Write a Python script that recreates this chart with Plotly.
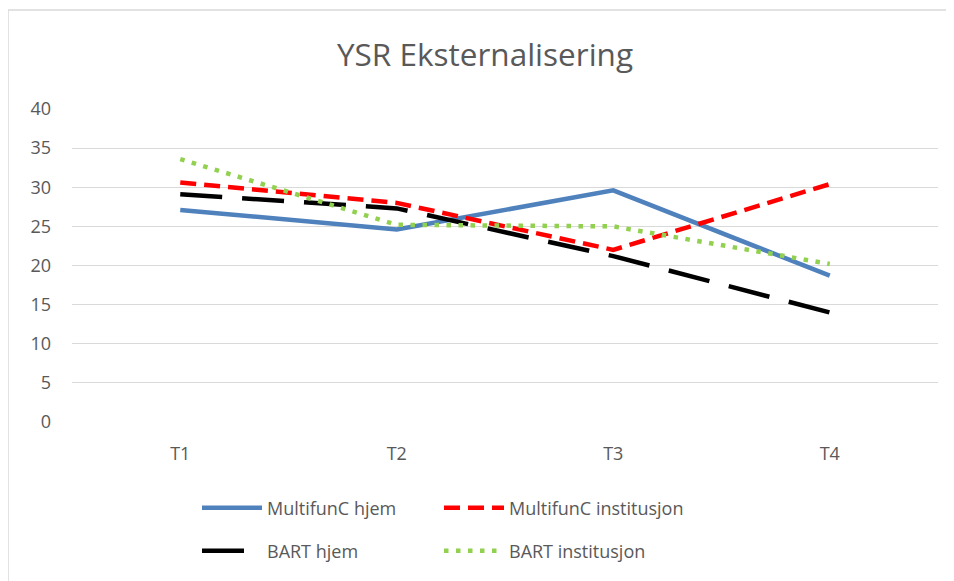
import plotly.graph_objects as go

categories = ["T1", "T2", "T3", "T4"]
multifunc_hjem = [27.1, 24.6, 29.6, 18.7]
multifunc_inst = [30.6, 28.0, 22.0, 30.4]
bart_hjem = [29.1, 27.3, 21.2, 14.0]
bart_inst = [33.6, 25.2, 25.0, 20.2]
y_ticks = [0, 5, 10, 15, 20, 25, 30, 35, 40]

FONT = "Open Sans"
GREY = "#595959"

fig = go.Figure()
fig.add_trace(go.Scatter(x=categories, y=multifunc_hjem, mode="lines", name="MultifunC hjem",
                         line=dict(color="#4F81BD", width=4.5), legend="legend", showlegend=True))
fig.add_trace(go.Scatter(x=categories, y=multifunc_inst, mode="lines", name="MultifunC institusjon",
                         line=dict(color="#FF0000", width=4.5, dash="16px,8px"), legend="legend2",
                         showlegend=True))
fig.add_trace(go.Scatter(x=categories, y=bart_hjem, mode="lines", name="BART hjem",
                         line=dict(color="#000000", width=4.5, dash="42px,20px"), legend="legend3",
                         showlegend=True))
fig.add_trace(go.Scatter(x=categories, y=bart_inst, mode="lines", name="BART institusjon",
                         line=dict(color="#92D050", width=4.5, dash="4.5px,7.5px"), legend="legend4",
                         showlegend=True))

# page body offset (screen px) of the figure
OFF = 8
W, H = 954 - OFF, 581 - OFF
# plot area in screen coordinates: left 72, right 938, top 109, bottom 422
L = 72 - OFF
T = 109 - OFF
R = W - (938 - OFF)
B = H - (422 - OFF)
pw, ph = W - L - R, H - T - B

def px_x(p):
    return (p - OFF - L) / pw

def px_y(p):
    return (H - B - (p - OFF)) / ph

def leg(xs, ys):
    return dict(orientation="h", x=px_x(xs), xanchor="left", y=px_y(ys), yanchor="middle",
                font=dict(size=18, color=GREY), bgcolor="rgba(0,0,0,0)", itemwidth=60)

frame = dict(color="#D9D9D9", width=1.5)

fig.update_layout(
    width=W, height=H,
    showlegend=True,
    margin=dict(l=L, r=R, t=T, b=B, autoexpand=False),
    paper_bgcolor="white", plot_bgcolor="white",
    font=dict(family=FONT, color=GREY, size=18),
    title=dict(text="YSR Eksternalisering", x=px_x(485), xanchor="center", xref="paper",
               y=1 - (55 - OFF) / H, yanchor="middle", font=dict(size=31.5, color=GREY, family=FONT)),
    xaxis=dict(type="category", range=[-0.5, 3.5], showgrid=False, showline=False, ticks="",
               zeroline=False, tickfont=dict(size=18, color=GREY), ticklabelstandoff=19),
    yaxis=dict(range=[0, 40], tickvals=y_ticks, showgrid=True, gridcolor="#D9D9D9", gridwidth=1,
               zeroline=False, showline=False, ticks="", tickfont=dict(size=18, color=GREY),
               ticklabelstandoff=20),
    legend=leg(197, 508),
    legend2=leg(439, 508),
    legend3=leg(197, 551),
    legend4=leg(439, 551),
    shapes=[
        dict(type="line", xref="paper", yref="paper", x0=px_x(8), x1=px_x(8),
             y0=px_y(10), y1=px_y(600), line=frame, layer="below"),
        dict(type="line", xref="paper", yref="paper", x0=px_x(8), x1=px_x(980),
             y0=px_y(10), y1=px_y(10), line=frame, layer="below"),
    ],
)

fig.write_html("out.html")
